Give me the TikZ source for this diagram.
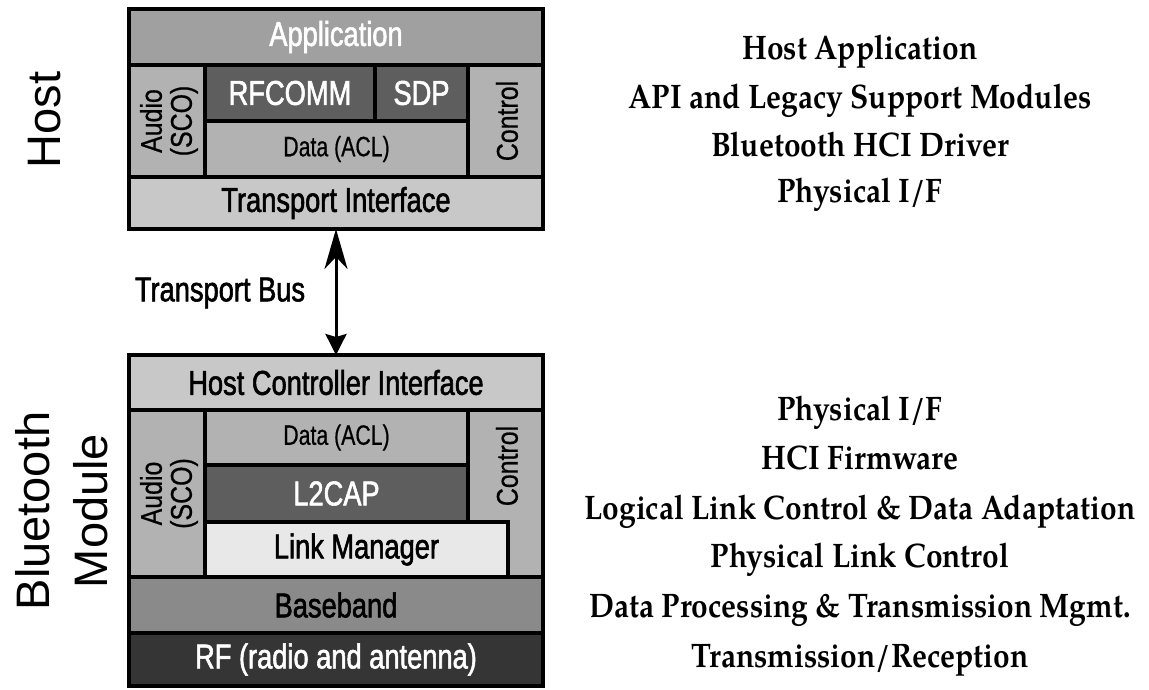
\documentclass[tikz,border=0pt]{standalone}
\usepackage{fontspec}
\usetikzlibrary{arrows.meta}
\newfontfamily\boxfont[FakeStretch=0.79,FakeBold=1.6]{Liberation Sans}
\newfontfamily\smallboxfont[FakeStretch=0.83,FakeBold=0.6]{Liberation Sans}
\newfontfamily\databoxfont[FakeStretch=0.76,FakeBold=0.6]{Liberation Sans}
\newfontfamily\sidefont{Liberation Sans}
\newfontfamily\descfont[FakeStretch=0.88]{TeX Gyre Pagella}

\definecolor{appgray}{HTML}{A0A0A0}
\definecolor{midgray}{HTML}{B2B2B2}
\definecolor{darkgray}{HTML}{5E5E5E}
\definecolor{ifgray}{HTML}{C8C8C8}
\definecolor{palegray}{HTML}{E8E8E8}
\definecolor{bbgray}{HTML}{8A8A8A}
\definecolor{rfgray}{HTML}{353535}

\tikzset{
  layer/.style={draw=black, line width=3.5pt, rectangle, inner sep=0pt, outer sep=0pt,
    font=\boxfont\fontsize{34.5}{38}\selectfont},
  darklayer/.style={layer, text=white},
  rotlabel/.style={rotate=90, inner sep=0pt, align=center,
    font=\smallboxfont\fontsize{30}{30}\selectfont},
  smalltext/.style={font=\databoxfont\fontsize{28}{30}\selectfont},
  sidelabel/.style={rotate=90, inner sep=0pt, align=center,
    font=\sidefont\fontsize{47}{58}\selectfont},
  desc/.style={anchor=base, inner sep=0pt, font=\descfont\bfseries\fontsize{34}{40}\selectfont},
  busarrow/.style={line width=3pt,
    {Stealth[length=40pt,width=23pt,inset=12pt]}-{Stealth[length=21pt,width=21pt,inset=3pt]}}
}

\begin{document}
\begin{tikzpicture}[x=1pt,y=-1pt]
\useasboundingbox (0,0) rectangle (1149,689);

% ---------- Host stack ----------
\node[darklayer, fill=appgray, minimum width=414pt, minimum height=56pt] (app) at (336,37) {Application};
\node[layer, fill=midgray, minimum width=76pt, minimum height=112pt] (haudio) at (167,121) {};
\node[darklayer, fill=darkgray, minimum width=170pt, minimum height=56pt] (rfcomm) at (290,93) {RFCOMM};
\node[darklayer, fill=darkgray, minimum width=93pt, minimum height=56pt] (sdp) at (421.5,93) {SDP};
\node[layer, fill=midgray, minimum width=263pt, minimum height=56pt, smalltext] (hdata) at (336.5,149) {Data (ACL)};
\node[layer, fill=midgray, minimum width=75pt, minimum height=112pt] (hctrl) at (505.5,121) {};
\node[layer, fill=ifgray, minimum width=414pt, minimum height=52pt] (tif) at (336,203) {Transport Interface};
\node[rotlabel] (haudiotxt) at (169,121) {Audio\\(SCO)};
\node[rotlabel] (hctrltxt) at (507,121) {Control};

% ---------- Bluetooth module stack ----------
\node[layer, fill=ifgray, minimum width=414pt, minimum height=55pt] (hci) at (336,382.5) {Host Controller Interface};
\node[layer, fill=midgray, minimum width=76pt, minimum height=167pt] (baudio) at (167,493.5) {};
\node[layer, fill=midgray, minimum width=75pt, minimum height=167pt] (bctrl) at (505.5,493.5) {};
\node[layer, fill=midgray, minimum width=263pt, minimum height=55pt, smalltext] (bdata) at (336.5,437.5) {Data (ACL)};
\node[darklayer, fill=darkgray, minimum width=263pt, minimum height=57pt] (l2cap) at (336.5,493.5) {L2CAP};
\node[layer, fill=palegray, minimum width=303pt, minimum height=55pt] (lm) at (356.5,549.5) {Link Manager};
\node[layer, fill=bbgray, minimum width=414pt, minimum height=56pt] (bb) at (336,605) {Baseband};
\node[darklayer, fill=rfgray, minimum width=414pt, minimum height=53pt] (rf) at (336,659.5) {RF (radio and antenna)};
\node[rotlabel] (baudiotxt) at (169,493.5) {Audio\\(SCO)};
\node[rotlabel] (bctrltxt) at (507,466) {Control};

% ---------- Transport bus ----------
\draw[busarrow] (tif.south) -- (hci.north);
\node[inner sep=0pt, font=\boxfont\fontsize{34.5}{38}\selectfont] (bus) at (220,293) {Transport Bus};

% ---------- Side labels ----------
\node[sidelabel] (hostlbl) at (45,120) {Host};
\node[sidelabel] (btlbl) at (62,511) {Bluetooth\\Module};

% ---------- Descriptions ----------
\node[desc] (d1) at (860,59) {Host Application};
\node[desc] (d2) at (860,108) {API and Legacy Support Modules};
\node[desc] (d3) at (860,156) {Bluetooth HCI Driver};
\node[desc] (d4) at (860,202) {Physical I/F};
\node[desc] (d5) at (860,420) {Physical I/F};
\node[desc] (d6) at (860,469) {HCI Firmware};
\node[desc] (d7) at (860,519) {Logical Link Control \& Data Adaptation};
\node[desc] (d8) at (860,567) {Physical Link Control};
\node[desc] (d9) at (860,617) {Data Processing \& Transmission Mgmt.};
\node[desc] (d10) at (860,667) {Transmission/Reception};
\end{tikzpicture}
\end{document}
